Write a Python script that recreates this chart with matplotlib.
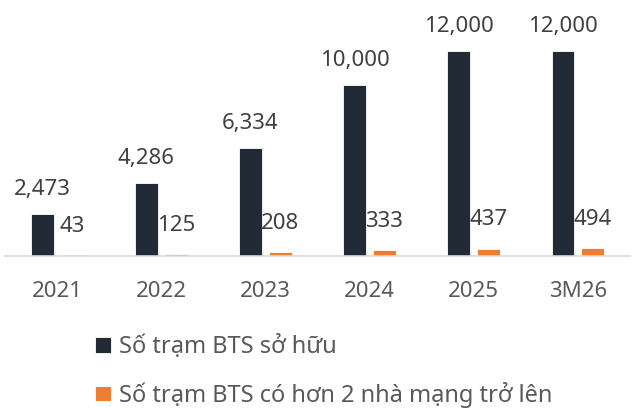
import matplotlib
matplotlib.use("Agg")
import matplotlib.pyplot as plt
import numpy as np

plt.rcParams['font.family'] = ['Noto Sans', 'DejaVu Sans']

# data
categories = ['2021', '2022', '2023', '2024', '2025', '3M26']
owned = [2473, 4286, 6334, 10000, 12000, 12000]
shared = [43, 125, 208, 333, 437, 494]
series_names = ['Số trạm BTS sở hữu', 'Số trạm BTS có hơn 2 nhà mạng trở lên']

navy = '#222A35'
orange = '#ED7D31'
label_col = '#404040'
tick_col = '#595959'

fig = plt.figure(figsize=(6.33, 4.08), dpi=100)
ax = fig.add_axes([5 / 633, 152 / 408, 625 / 633, 256 / 408])

x = np.arange(len(categories))
w = 0.22
off = 0.143
b1 = ax.bar(x - off, owned, w, color=navy, edgecolor='white', linewidth=0.6, label=series_names[0])
b2 = ax.bar(x + off, shared, w, color=orange, edgecolor='white', linewidth=0.6, label=series_names[1])

for rect, v in zip(b1, owned):
    ax.annotate(f'{v:,}', (rect.get_x() + rect.get_width() / 2, rect.get_height()),
                xytext=(0, 10), textcoords='offset points', ha='center', va='bottom',
                fontsize=16, color=label_col)
for rect, v in zip(b2, shared):
    ax.annotate(f'{v:,}', (rect.get_x() + rect.get_width() / 2, rect.get_height()),
                xytext=(0, 13), textcoords='offset points', ha='center', va='bottom',
                fontsize=16, color=label_col)

ax.set_xlim(-0.5, len(categories) - 0.5)
ax.set_ylim(0, 15000)
ax.set_xticks(x)
ax.set_xticklabels(categories, fontsize=16, color=tick_col)
ax.tick_params(axis='x', length=0, pad=18)
ax.set_yticks([])
for s in ['top', 'right', 'left']:
    ax.spines[s].set_visible(False)
ax.spines['bottom'].set_color('#D9D9D9')
ax.spines['bottom'].set_linewidth(1.2)

leg = fig.legend(handles=[b1, b2], labels=series_names, loc='upper left',
                 bbox_to_anchor=(86 / 633, 1 - 326 / 408), frameon=False,
                 fontsize=17, handlelength=0.65, handleheight=0.65, handletextpad=0.35,
                 labelspacing=0.95, borderaxespad=0)
for t in leg.get_texts():
    t.set_color(tick_col)

fig.savefig('out.png', dpi=100)
